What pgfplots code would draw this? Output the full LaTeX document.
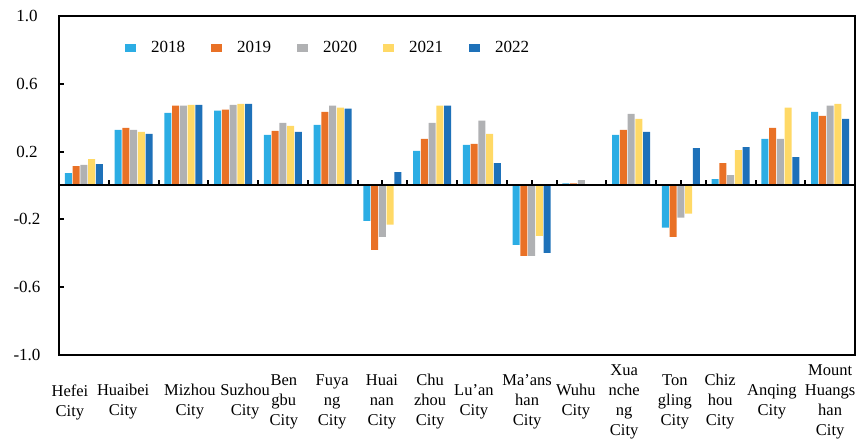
\documentclass[border=0pt]{standalone}
\usepackage{pgfplots}
\pgfplotsset{compat=1.18}
\usepackage{pgfplotstable}
\usepackage{fontspec}
\setmainfont{Liberation Serif}
\definecolor{c18}{RGB}{44,173,228}
\definecolor{c19}{RGB}{233,113,38}
\definecolor{c20}{RGB}{176,177,179}
\definecolor{c21}{RGB}{255,217,102}
\definecolor{c22}{RGB}{30,113,185}
\pgfplotstableread{
x y18 y19 y20 y21 y22
0 0.073 0.115 0.122 0.156 0.126
1 0.328 0.340 0.328 0.316 0.304
2 0.429 0.471 0.471 0.476 0.476
3 0.441 0.447 0.476 0.482 0.482
4 0.298 0.322 0.370 0.352 0.316
5 0.358 0.435 0.471 0.459 0.453
6 -0.208 -0.380 -0.303 -0.231 0.079
7 0.204 0.275 0.370 0.471 0.471
8 0.239 0.245 0.382 0.304 0.132
9 -0.350 -0.415 -0.415 -0.297 -0.398
10 0.013 0.013 0.031 0.006 0.008
11 0.298 0.328 0.423 0.393 0.316
12 -0.249 -0.303 -0.190 -0.166 0.221
13 0.037 0.132 0.061 0.209 0.227
14 0.275 0.340 0.275 0.459 0.168
15 0.435 0.411 0.471 0.482 0.393
}\datatable
\begin{document}
\begin{tikzpicture}
\begin{axis}[
  scale only axis, width=796pt, height=339pt,
  xmin=-0.5, xmax=15.5, ymin=-1, ymax=1,
  ybar=0.8pt, bar width=7pt,
  axis line style={line width=2pt},
  ytick={-1,-0.6,-0.2,0.2,0.6,1},
  ytick pos=left, tick align=inside, major tick length=5pt,
  ytick style={line width=2pt, black},
  /pgf/number format/assume math mode=true,
  yticklabel style={anchor=center, xshift=-32pt, font=\fontsize{17}{18}\selectfont,
    /pgf/number format/fixed, /pgf/number format/precision=1, /pgf/number format/fixed zerofill},
  xtick={-0.28,0.79,2.13,3.24,4.02,4.99,5.99,6.96,7.84,8.91,9.89,10.86,11.88,12.79,13.83,15.0},
  xtick style={draw=none},
  xticklabels={{Hefei\\City},{Huaibei\\City},{Mizhou\\City},{Suzhou\\City},{Ben\\gbu\\City},{Fuya\\ng\\City},{Huai\\nan\\City},{Chu\\zhou\\City},{Lu'an\\City},{Ma'ans\\han\\City},{Wuhu\\City},{Xua\\nche\\ng\\City},{Ton\\gling\\City},{Chiz\\hou\\City},{Anqing\\City},{Mount\\Huangs\\han\\City}},
  xticklabel style={anchor=center, align=center, yshift=-47pt, inner sep=0pt, font=\fontsize{16.5}{20}\selectfont},
  legend style={draw=none, fill=none, at={(0.338,0.906)}, anchor=center, legend columns=5,
    font=\fontsize{17}{18}\selectfont,
    /tikz/every odd column/.append style={column sep=13pt},
    /tikz/every even column/.append style={column sep=24pt}},
  legend image code/.code={\fill[#1] (0pt,-4pt) rectangle (11pt,4pt);},
  clip=false,
]
\pgfplotsinvokeforeach{-0.5,0,0.5,1,1.5,2,2.5,3,3.5,4,4.5,5,5.5,6,6.5,7,7.5,8,8.5,9,9.5,10,10.5,11,11.5,12,12.5,13,13.5,14,14.5,15,15.5}{
  \draw[line width=2pt] (axis cs:#1,0) -- (axis cs:#1,0.03);
}
\addplot[fill=c18, draw=none] table[x=x, y=y18] {\datatable};
\addplot[fill=c19, draw=none] table[x=x, y=y19] {\datatable};
\addplot[fill=c20, draw=none] table[x=x, y=y20] {\datatable};
\addplot[fill=c21, draw=none] table[x=x, y=y21] {\datatable};
\addplot[fill=c22, draw=none] table[x=x, y=y22] {\datatable};
\legend{2018,2019,2020,2021,2022}
\draw[line width=2pt] (axis cs:-0.5,0) -- (axis cs:15.5,0);
\coordinate (ll) at (rel axis cs:0,0);
\coordinate (ur) at (rel axis cs:1,1);
\end{axis}
\path ([shift={(-59pt,-86pt)}]ll) rectangle ([shift={(3pt,16pt)}]ur);
\end{tikzpicture}
\end{document}
